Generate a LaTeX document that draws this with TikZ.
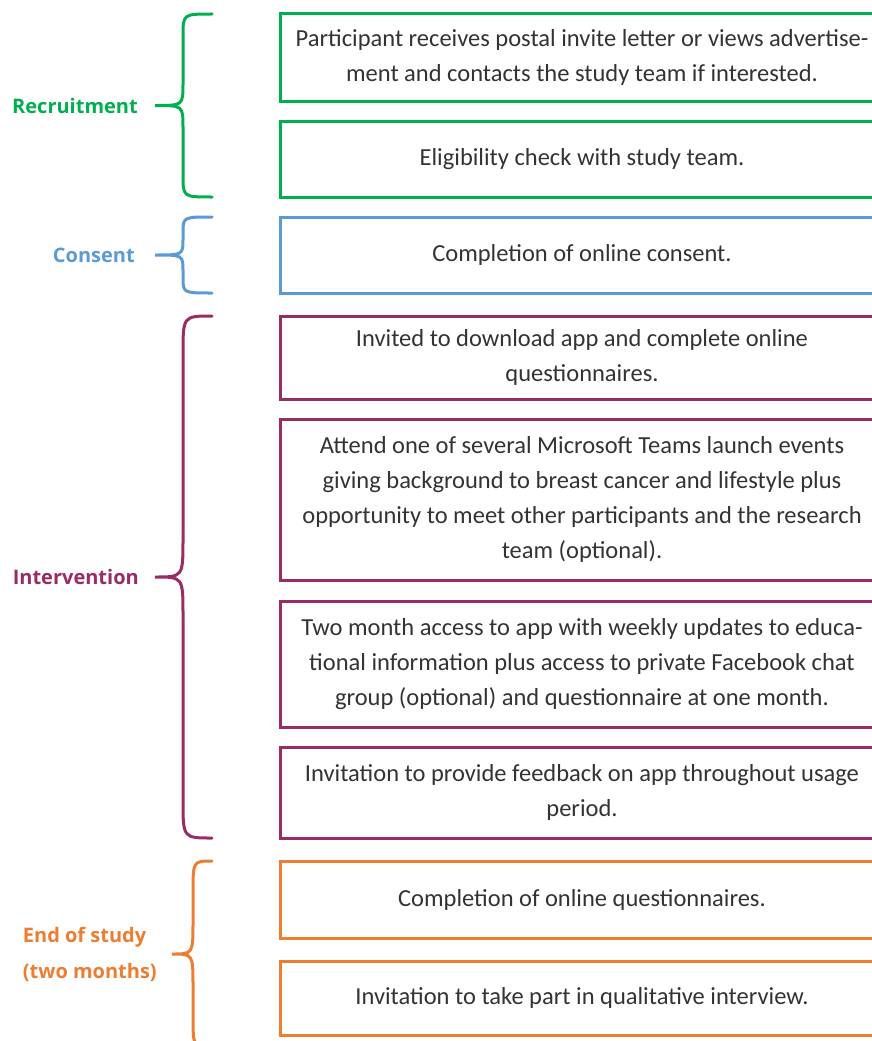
\documentclass[tikz,border=0pt]{standalone}
\usepackage{fontspec}
\setmainfont{Carlito}
\newfontfamily\phasefont{Open Sans}
\usetikzlibrary{positioning}

\definecolor{recruitgreen}{HTML}{00B050}
\definecolor{consentblue}{HTML}{5B9BD5}
\definecolor{interventionplum}{HTML}{9A2C65}
\definecolor{endorange}{HTML}{ED7D31}
\definecolor{stagetext}{HTML}{333333}

% colour, top, bottom, tip x, spine x, curl, name of the tip
\newcommand{\phasebrace}[7]{%
  \draw[#1, curly] (212,#2) .. controls (#5,#2) .. (#5,#2+#6)
    -- (#5,{(#2+#3)/2-#6}) .. controls (#5,{(#2+#3)/2}) .. (#4,{(#2+#3)/2})
    .. controls (#5,{(#2+#3)/2}) .. (#5,{(#2+#3)/2+#6})
    -- (#5,#3-#6) .. controls (#5,#3) .. (212,#3);
  \coordinate (#7) at (#4,{(#2+#3)/2});}

\begin{document}
\begin{tikzpicture}[x=1pt, y=-1pt,
    stage/.style={draw, line width=3pt, minimum width=604pt, inner sep=0pt,
      outer sep=0pt, anchor=north west, align=center, text=stagetext,
      font=\fontsize{24.5}{35}\selectfont},
    phase/.style={font=\phasefont\bfseries\fontsize{20}{36}\selectfont,
      align=left, inner sep=0pt},
    curly/.style={line width=3pt, line cap=round}]
    \path[use as bounding box, fill=white] (0,0) rectangle (871,1041);

    \node[stage, draw=recruitgreen, minimum height=87pt] (invite) at (280,14)
        {Participant receives postal invite letter or views advertise-\\ment and contacts the study team if interested.};
    \node[stage, draw=recruitgreen, minimum height=76pt, below=20pt of invite] (eligible)
        {Eligibility check with study team.};
    \node[stage, draw=consentblue, minimum height=76pt, below=20pt of eligible] (consent)
        {Completion of online consent.};
    \node[stage, draw=interventionplum, minimum height=83pt, below=23pt of consent] (download)
        {Invited to download app and complete online\\questionnaires.};
    \node[stage, draw=interventionplum, minimum height=161pt, below=20pt of download] (launch)
        {Attend one of several Microsoft Teams launch events\\giving background to breast cancer and lifestyle plus\\opportunity to meet other participants and the research\\team (optional).};
    \node[stage, draw=interventionplum, minimum height=126pt, below=21pt of launch] (access)
        {Two month access to app with weekly updates to educa-\\tional information plus access to private Facebook chat\\group (optional) and questionnaire at one month.};
    \node[stage, draw=interventionplum, minimum height=91pt, below=20pt of access] (feedback)
        {Invitation to provide feedback on app throughout usage\\period.};
    \node[stage, draw=endorange, minimum height=77pt, below=23pt of feedback] (final)
        {Completion of online questionnaires.};
    \node[stage, draw=endorange, minimum height=74pt, below=23pt of final] (interview)
        {Invitation to take part in qualitative interview.};

    \phasebrace{recruitgreen}{14}{197}{155}{183}{22}{recruittip}
    \phasebrace{consentblue}{217}{293}{155}{183}{16}{consenttip}
    \phasebrace{interventionplum}{316}{838}{155}{183}{38}{interventiontip}
    \phasebrace{endorange}{861}{1047}{172}{193}{32}{endtip}

    \node[phase, text=recruitgreen, left=17pt of recruittip] (recruit) {Recruitment};
    \node[phase, text=consentblue, left=20pt of consenttip] (consentlabel) {Consent};
    \node[phase, text=interventionplum, left=16pt of interventiontip] (intervention) {Intervention};
    \node[phase, text=endorange, left=15pt of endtip] (endstudy) {End of study\\(two months)};
\end{tikzpicture}
\end{document}
